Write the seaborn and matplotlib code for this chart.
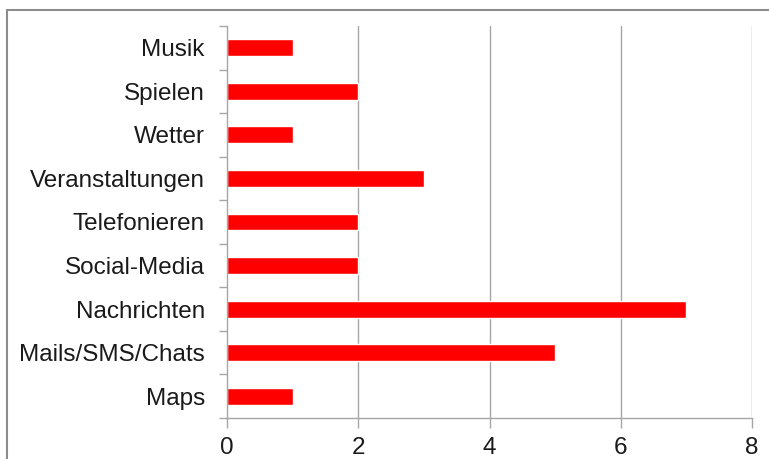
import matplotlib
matplotlib.use("Agg")
import matplotlib.pyplot as plt
import seaborn as sns
import pandas as pd
import numpy as np
from matplotlib.patches import Rectangle

categories = ["Musik", "Spielen", "Wetter", "Veranstaltungen", "Telefonieren",
              "Social-Media", "Nachrichten", "Mails/SMS/Chats", "Maps"]
counts = [1, 2, 1, 3, 2, 2, 7, 5, 1]
x_ticks = [0, 2, 4, 6, 8]

sns.set_theme(style="white")
plt.rcParams["font.family"] = ["Liberation Sans", "DejaVu Sans"]

df = pd.DataFrame({"Kategorie": categories, "Anzahl": counts})

fig = plt.figure(figsize=(7.69, 4.59), dpi=100)
ax = fig.add_axes([227 / 769, 1 - 418 / 459, (752 - 227) / 769, (418 - 26) / 459])

sns.barplot(data=df, y="Kategorie", x="Anzahl", color="#FF0000", saturation=1,
            width=0.39, ax=ax, order=categories)

grid_c = "#A6A6A6"
text_c = "#1a1a1a"
ax.set_xlim(0, 8)
ax.set_ylim(len(categories) - 0.5, -0.5)
ax.set_xticks(x_ticks)
ax.set_xticklabels([str(t) for t in x_ticks])
for t in x_ticks[1:]:
    ax.axvline(t, color=grid_c, lw=1.0, zorder=0)

# category labels centered, tick marks at category boundaries
ax.set_yticks(np.arange(len(categories)))
ax.set_yticklabels(categories)
ax.set_yticks(np.arange(len(categories) + 1) - 0.5, minor=True)
ax.tick_params(axis="y", which="major", length=0, pad=16, labelsize=17.5, labelcolor=text_c)
ax.tick_params(axis="y", which="minor", length=6, width=1.0, color=grid_c, left=True)
ax.tick_params(axis="x", which="major", length=7, width=1.0, color=grid_c, bottom=True,
               pad=6.5, labelsize=17.5, labelcolor=text_c)

ax.set_xlabel("")
ax.set_ylabel("")
for s in ["top", "right"]:
    ax.spines[s].set_visible(False)
for s in ["left", "bottom"]:
    ax.spines[s].set_color(grid_c)
    ax.spines[s].set_linewidth(1.0)

# outer chart frame
fig.patches.append(Rectangle((7 / 769, -0.1), 1.2, 1 - 10 / 459 + 0.1,
                             transform=fig.transFigure, fill=False,
                             edgecolor="#8C8C8C", lw=1.5))

fig.savefig("out.png", dpi=100)
